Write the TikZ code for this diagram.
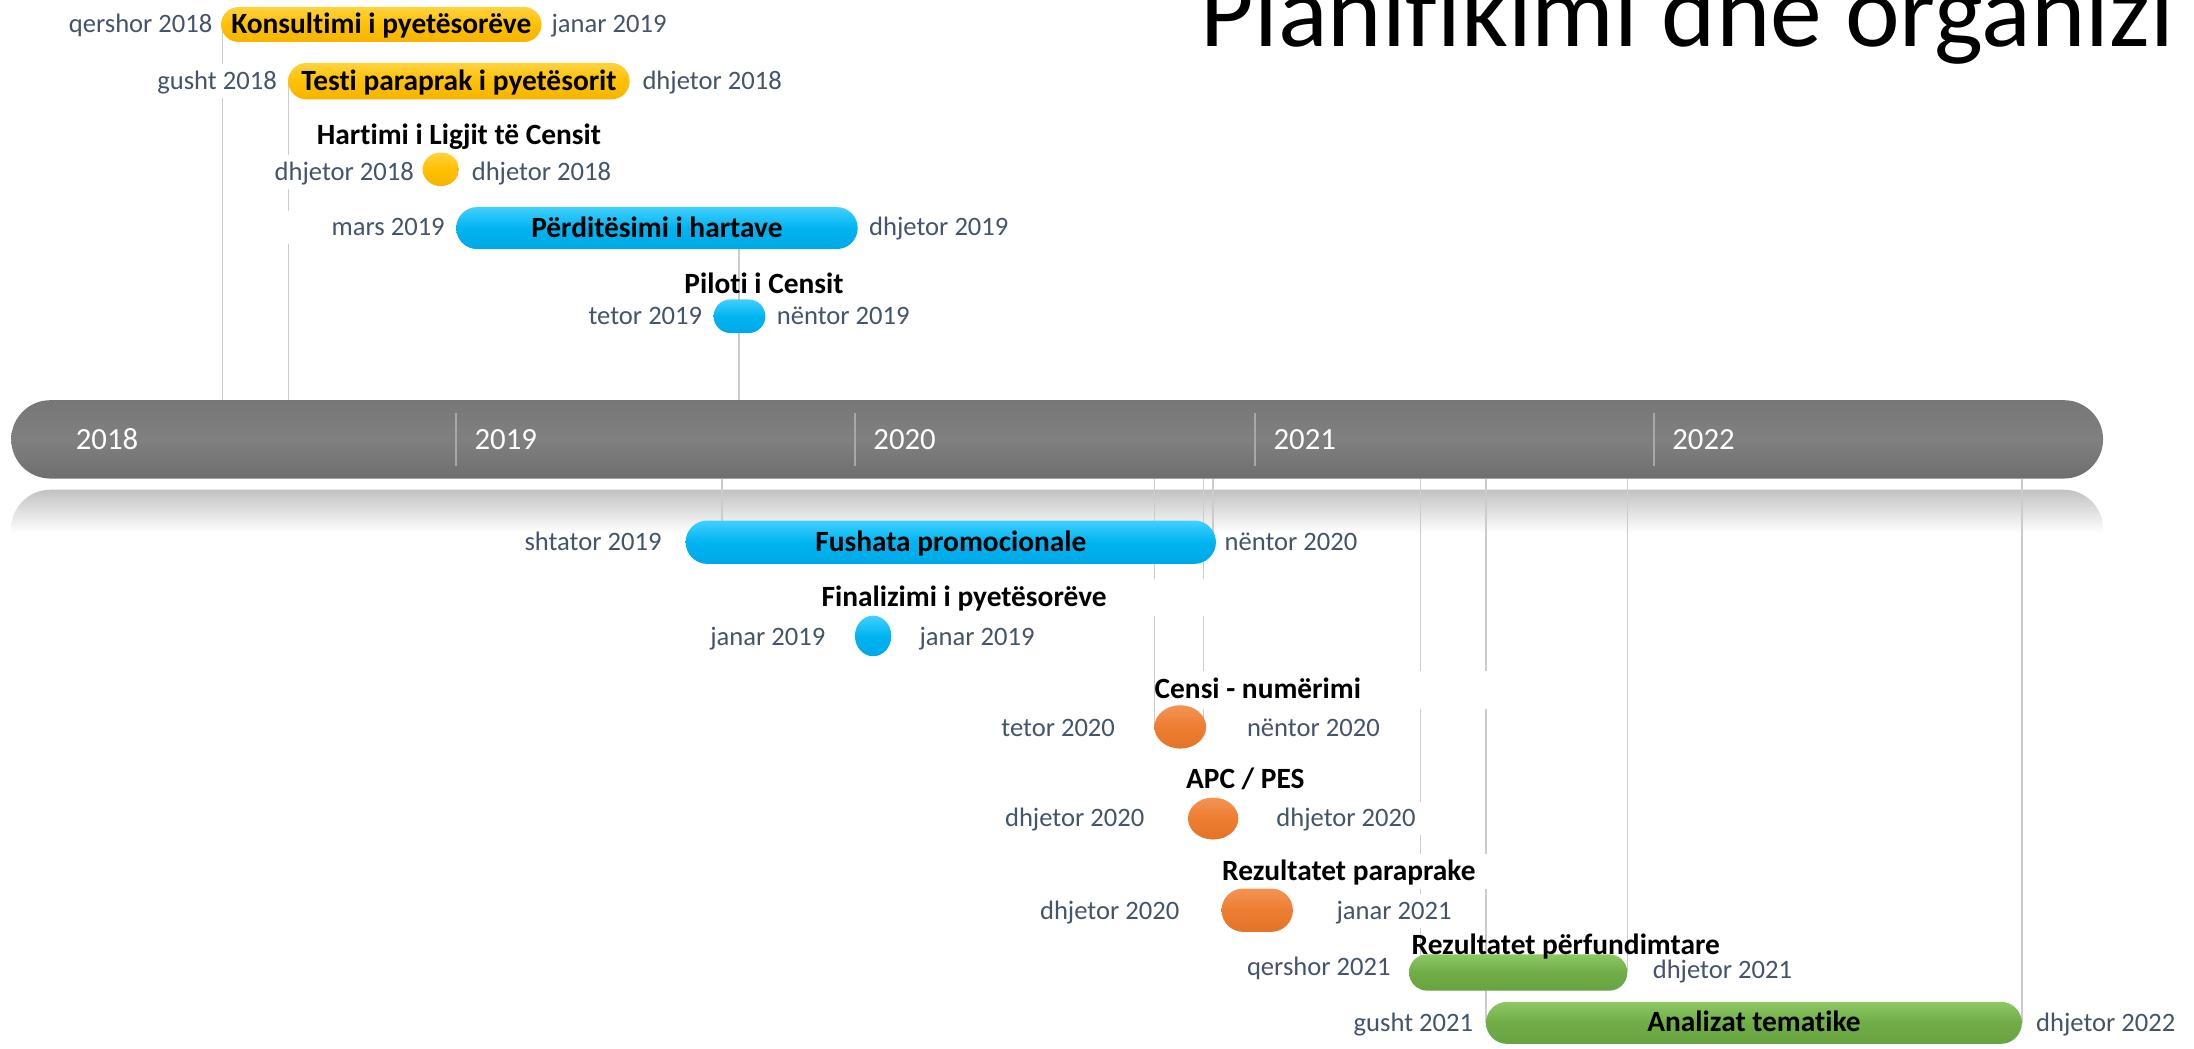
\documentclass[tikz,border=0pt]{standalone}
\usepackage{fontspec}
\setmainfont{Carlito}[Ligatures={NoCommon}]
\usetikzlibrary{shapes.misc,shapes.geometric}
\definecolor{datec}{HTML}{44546A}
\definecolor{connc}{HTML}{CCCCCC}
\definecolor{sepc}{HTML}{A8A8A8}
\definecolor{reflT}{HTML}{C2C2C2}
\definecolor{tlT}{HTML}{777777}
\definecolor{tlM}{HTML}{808080}
\definecolor{tlB}{HTML}{6E6E6E}
\definecolor{yelT}{HTML}{FFD240}
\definecolor{yelM}{HTML}{FFC000}
\definecolor{yelB}{HTML}{F5B400}
\definecolor{bluT}{HTML}{40D0FF}
\definecolor{bluM}{HTML}{00B4F0}
\definecolor{bluB}{HTML}{00A8E6}
\definecolor{oraT}{HTML}{F39453}
\definecolor{oraM}{HTML}{ED7D31}
\definecolor{oraB}{HTML}{E27428}
\definecolor{greT}{HTML}{8DC863}
\definecolor{greM}{HTML}{70AD47}
\definecolor{greB}{HTML}{68A340}
\tikzset{
  datel/.style={text=datec, font=\fontsize{19}{22}\selectfont, fill=white,
    inner xsep=2pt, inner ysep=3pt, text height=15pt, text depth=3pt},
  ttl/.style={font=\bfseries\fontsize{21}{24}\selectfont, inner sep=1pt,
    text height=15.5pt, text depth=2.5pt},
  evbar/.style={rounded rectangle, inner sep=0pt,
    font=\bfseries\fontsize{21}{24}\selectfont, text height=15.5pt, text depth=2.5pt},
  evdot/.style={ellipse, inner sep=0pt},
  yel/.style={top color=yelT, bottom color=yelB, middle color=yelM},
  blu/.style={top color=bluT, bottom color=bluB, middle color=bluM},
  ora/.style={top color=oraT, bottom color=oraB, middle color=oraM},
  gre/.style={top color=greT, bottom color=greB, middle color=greM},
  conn/.style={draw=connc, line width=1pt},
  sepline/.style={draw=sepc, line width=1pt},
  yearl/.style={text=white, font=\fontsize{22}{26}\selectfont, anchor=west, inner sep=0pt}
}
\begin{document}
\begin{tikzpicture}[x=1pt,y=-1pt]
\useasboundingbox (0,0) rectangle (1568,749);

% title
\node[anchor=base west, font=\fontsize{74}{80}\selectfont, inner sep=0pt] (title) at (858,33) {Planifikimi dhe organizi};

% reflection of the time line
\shade[top color=reflT, bottom color=white, middle color=white, rounded corners=28pt] (8,350) rectangle (1503,412);

% time line
\node[rounded rectangle, minimum width=1495, minimum height=56, inner sep=0pt,
  top color=tlT, bottom color=tlB, middle color=tlM] (tl) at (755.5,314) {};
\foreach \x in {326,611,897,1182} \draw[sepline] (\x,295) -- (\x,333);
\node[yearl] (y18) at (54,314) {2018};
\node[yearl] (y19) at (339,314) {2019};
\node[yearl] (y20) at (624,314) {2020};
\node[yearl] (y21) at (910,314) {2021};
\node[yearl] (y22) at (1195,314) {2022};

% connector anchors
\coordinate (c1) at (159,17.5);
\coordinate (c2) at (206,58);
\coordinate (c3) at (528,163);
\coordinate (d1) at (516,387);
\coordinate (d2) at (825,519);
\coordinate (d3) at (860,519);
\coordinate (d4) at (867,387);
\coordinate (d5) at (1015,695);
\coordinate (d6) at (1062,731);
\coordinate (d7) at (1163,695);
\coordinate (d8) at (1445,731);
\foreach \c in {c1,c2,c3} \draw[conn] (\c) -- (\c |- tl.north);
\foreach \c in {d1,d2,d3,d4,d5,d6,d7,d8} \draw[conn] (tl.south -| \c) -- (\c);

% ---- labels (drawn before the bars) ----
\node[datel, anchor=east] (k-s) at (154,17.5) {qershor 2018};
\node[datel, anchor=west] (k-e) at (392,17.5) {janar 2019};

\node[datel, anchor=east] (t-s) at (200,58) {\makebox[108pt][r]{gusht 2018}};
\node[datel, anchor=west] (t-e) at (457,58) {dhjetor 2018};

\node[ttl] (h-t) at (328,97) {Hartimi i Ligjit të Censit};
\node[datel, anchor=east] (h-s) at (298,123) {dhjetor 2018};
\node[datel, anchor=west] (h-e) at (335,123) {dhjetor 2018};

\node[datel, anchor=east] (p-s) at (320,162.5) {\makebox[120pt][r]{mars 2019}};
\node[datel, anchor=west] (p-e) at (619,162.5) {dhjetor 2019};

\node[ttl] (pl-t) at (546,203) {Piloti i Censit};
\node[datel, anchor=east] (pl-s) at (504,226) {tetor 2019};
\node[datel, anchor=west] (pl-e) at (553,226) {nëntor 2019};

\node[datel, anchor=east, fill=none] (f-s) at (475,387.5) {shtator 2019};
\node[datel, anchor=west, fill=none] (f-e) at (873,387.5) {nëntor 2020};

\node[ttl, fill=white, minimum width=390, minimum height=26] (fi-t) at (689,427) {Finalizimi i pyetësorëve};
\node[datel, anchor=east] (fi-s) at (592,455) {janar 2019};
\node[datel, anchor=west] (fi-e) at (655,455) {janar 2019};

\node[ttl, fill=white, anchor=west, inner sep=0pt, minimum height=27] (c-t) at (825,493) {\makebox[246pt][l]{Censi - numërimi}};
\node[datel, anchor=east] (c-s) at (799,520) {tetor 2020};
\node[datel, anchor=west] (c-e) at (889,520) {nëntor 2020};

\node[ttl] (a-t) at (890,557) {APC / PES};
\node[datel, anchor=east] (a-s) at (820,585) {dhjetor 2020};
\node[datel, anchor=west] (a-e) at (910,585) {\makebox[108pt][l]{dhjetor 2020}};

\node[ttl, fill=white, minimum width=206, minimum height=25] (rp-t) at (964,623) {Rezultatet paraprake};
\node[datel, anchor=east] (rp-s) at (845,651) {dhjetor 2020};
\node[datel, anchor=west] (rp-e) at (953,651) {janar 2021};

\node[datel, anchor=east] (rf-s) at (996,691) {qershor 2021};
\node[datel, anchor=west] (rf-e) at (1179,693) {dhjetor 2021};

\node[datel, anchor=east] (an-s) at (1055,731) {gusht 2021};
\node[datel, anchor=west] (an-e) at (1453,731) {dhjetor 2022};

% ---- bars and dots ----
\node[evbar, yel, minimum width=229, minimum height=25] (kons) at (272.5,17.5) {Konsultimi i pyetësorëve};
\node[evbar, yel, minimum width=244, minimum height=26] (testi) at (328,58) {Testi paraprak i pyetësorit};
\node[evdot, yel, minimum width=26, minimum height=24] (hart) at (315,121) {};
\node[evbar, blu, minimum width=287, minimum height=30] (perd) at (469.5,163) {Përditësimi i hartave};
\node[evbar, blu, minimum width=37, minimum height=24] (pilot) at (528.5,226) {};
\node[evbar, blu, minimum width=379, minimum height=31] (fush) at (679.5,387.5) {Fushata promocionale};
\node[evdot, blu, minimum width=26, minimum height=29] (final) at (624,454.5) {};
\node[evdot, ora, minimum width=37, minimum height=31] (censi) at (843.5,519.5) {};
\node[evdot, ora, minimum width=36, minimum height=30] (apc) at (867,585) {};
\node[evbar, ora, minimum width=51, minimum height=31] (rezp) at (898.5,650.5) {};
\node[evbar, gre, minimum width=156, minimum height=26] (rezf) at (1085,695) {};
\node[ttl] (rf-t) at (1119,676) {Rezultatet përfundimtare};
\node[evbar, gre, minimum width=383, minimum height=30] (anal) at (1253.5,731) {Analizat tematike};

\end{tikzpicture}
\end{document}
